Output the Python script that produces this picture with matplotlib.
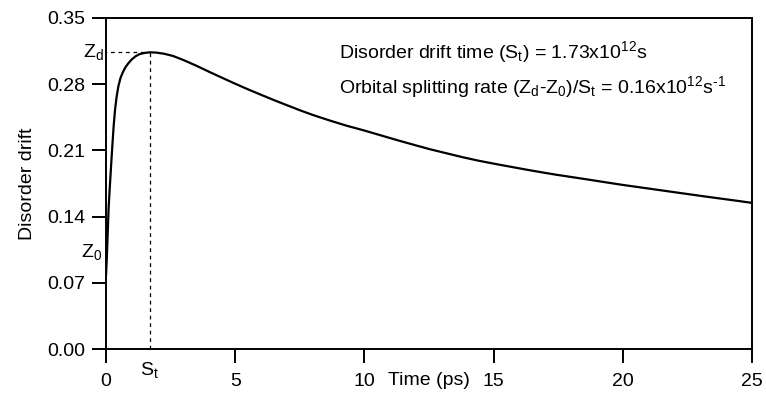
import numpy as np
import matplotlib
matplotlib.use("Agg")
import matplotlib.pyplot as plt

plt.rcParams['font.family'] = ['Liberation Sans', 'DejaVu Sans']
plt.rcParams['mathtext.fontset'] = 'custom'
plt.rcParams['mathtext.rm'] = 'Liberation Sans'
plt.rcParams['mathtext.it'] = 'Liberation Sans:italic'
plt.rcParams['mathtext.default'] = 'regular'

# curve
time_ps = [0.0, 0.03, 0.06, 0.10, 0.14, 0.18, 0.22, 0.26, 0.30, 0.35, 0.41, 0.48,
           0.56, 0.65, 0.75, 0.87, 1.0, 1.15, 1.3, 1.5, 1.7, 1.95, 2.25, 2.6,
           3.0, 3.5, 4.0, 4.5, 5.0, 5.5, 6.0, 6.5, 7.0, 7.5, 8.0, 8.67, 9.3,
           10.0, 10.6, 11.25, 11.9, 12.54, 13.2, 13.8, 14.4, 15.1, 15.7, 16.3,
           17.0, 17.44, 18.1, 18.7, 19.4, 20.0, 20.7, 21.3, 22.0, 22.6, 23.2,
           23.8, 24.4, 25.0]
drift = [0.078, 0.095, 0.118, 0.148, 0.168, 0.186, 0.204, 0.221, 0.237, 0.253,
         0.2665, 0.278, 0.2865, 0.2925, 0.2978, 0.3023, 0.3063, 0.3096, 0.3118,
         0.3131, 0.3137, 0.3134, 0.3122, 0.3098, 0.3055, 0.2995, 0.2930, 0.2867,
         0.2805, 0.2745, 0.2688, 0.2632, 0.2578, 0.2525, 0.2475, 0.2415, 0.2362,
         0.2310, 0.2262, 0.2210, 0.2160, 0.2112, 0.2068, 0.2028, 0.1992, 0.1955,
         0.1925, 0.1895, 0.1862, 0.1842, 0.1815, 0.1790, 0.1760, 0.1735, 0.1708,
         0.1685, 0.1658, 0.1635, 0.1612, 0.1590, 0.1568, 0.1545]

s_t = 1.70
z_d = 0.3137

xticks = [0, 5, 10, 15, 20, 25]
yticks = [0.00, 0.07, 0.14, 0.21, 0.28, 0.35]

fig = plt.figure(figsize=(7.66, 4.04), dpi=100)
ax = fig.add_axes([106/766, 55/404, 646/766, 331/404])

ax.plot(time_ps, drift, color='black', lw=1.6, solid_joinstyle='round')
ax.plot([-0.1, s_t], [z_d, z_d], color='black', lw=0.9, ls=(0, (3, 3)))
ax.plot([s_t, s_t], [0, z_d], color='black', lw=0.9, ls=(0, (3, 3)))

ax.set_xlim(0, 25)
ax.set_ylim(0, 0.35)
ax.set_xticks(xticks)
ax.set_yticks(yticks)
ax.set_yticklabels(['%.2f' % v for v in yticks])
for s in ax.spines.values():
    s.set_linewidth(1.4)
ax.tick_params(direction='out', length=10, width=1.4, labelsize=14)
ax.tick_params(axis='x', pad=7)
ax.tick_params(axis='y', pad=5)

ax.set_ylabel('Disorder drift', fontsize=14, labelpad=8)
ax.set_xlabel('Time (ps)', fontsize=14)
ax.xaxis.set_label_coords(0.5, -0.07)

ax.text(-0.1, z_d, r'Z$_\mathrm{d}$', fontsize=14, ha='right', va='center', clip_on=False)
ax.text(-0.15, 0.103, r'Z$_\mathrm{0}$', fontsize=14, ha='right', va='center', clip_on=False)
ax.text(s_t, -0.012, r'S$_\mathrm{t}$', fontsize=14, ha='center', va='top', clip_on=False)

ax.text(9.02, 0.3074, r'Disorder drift time (S$_\mathrm{t}$) = 1.73x10$^{12}$s',
        fontsize=14, va='baseline')
ax.text(9.02, 0.2704, r'Orbital splitting rate (Z$_\mathrm{d}$-Z$_\mathrm{0}$)/S$_\mathrm{t}$ = 0.16x10$^{12}$s$^{\text{-1}}$',
        fontsize=14, va='baseline')

fig.savefig('out.png', dpi=100)
